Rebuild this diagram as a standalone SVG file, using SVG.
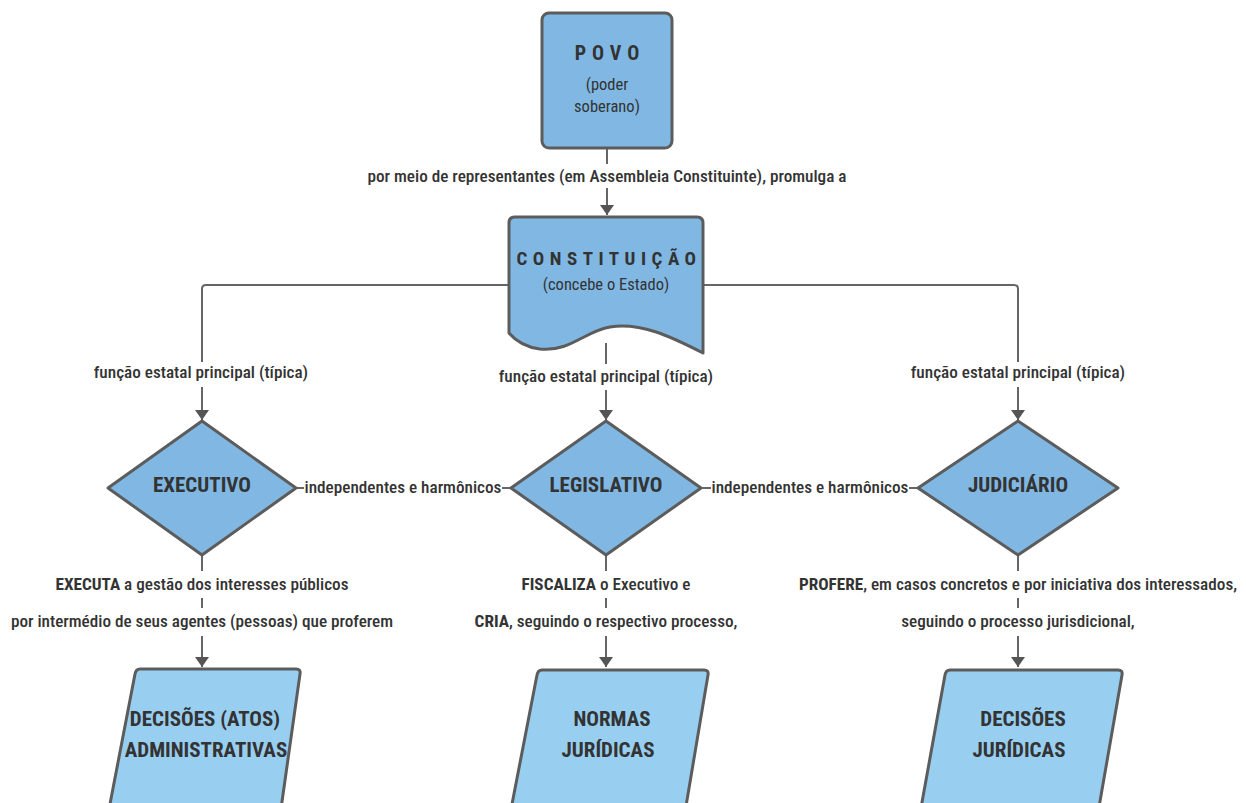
<svg xmlns="http://www.w3.org/2000/svg" width="1246" height="803" viewBox="0 0 1246 803">
<defs>
<style>
.shape{fill:#80b8e3;stroke:#5c5c5c;stroke-width:3;stroke-linejoin:round}
.out{fill:#98cff1;stroke:#5c5c5c;stroke-width:3;stroke-linejoin:round}
.conn{fill:none;stroke:#666;stroke-width:2}
text{font-family:"Roboto Condensed","Liberation Sans Narrow","Liberation Sans",sans-serif;fill:#333;text-anchor:middle}
.lbl{font-size:17.2px;font-weight:500}
.b{font-weight:bold}
.title{font-size:20px;font-weight:bold;letter-spacing:6px}
.sub{font-size:16.5px;font-weight:normal}
.node{font-size:21px;font-weight:bold}
</style>
<marker id="arr" viewBox="0 0 10 14" refX="10" refY="7" markerWidth="10" markerHeight="14" markerUnits="userSpaceOnUse" orient="auto">
<path d="M0,0 L10,7 L0,14 Z" fill="#555"/>
</marker>
</defs>
<rect width="1246" height="803" fill="#fff"/>

<g id="connectors">
<path class="conn" d="M607,149 V164"/>
<path class="conn" d="M607,188 V215" marker-end="url(#arr)"/>
<path class="conn" d="M509,285 H206 Q202,285 202,289 V362"/>
<path class="conn" d="M202,387 V420" marker-end="url(#arr)"/>
<path class="conn" d="M606,343 V364"/>
<path class="conn" d="M606,390 V420" marker-end="url(#arr)"/>
<path class="conn" d="M703,285 H1014 Q1018,285 1018,289 V362"/>
<path class="conn" d="M1018,387 V420" marker-end="url(#arr)"/>
<path class="conn" d="M296,488 H304 M502,488 H511"/>
<path class="conn" d="M701,488 H711 M909,488 H918"/>
<path class="conn" d="M202,555 V571 M202,598 V608"/>
<path class="conn" d="M202,636 V667" marker-end="url(#arr)"/>
<path class="conn" d="M606,555 V571 M606,598 V608"/>
<path class="conn" d="M606,636 V667" marker-end="url(#arr)"/>
<path class="conn" d="M1018,555 V571 M1018,598 V608"/>
<path class="conn" d="M1018,636 V667" marker-end="url(#arr)"/>
<text class="lbl" x="607" y="182">por meio de representantes (em Assembleia Constituinte), promulga a</text>
<text class="lbl" x="201" y="378">função estatal principal (típica)</text>
<text class="lbl" x="606" y="382">função estatal principal (típica)</text>
<text class="lbl" x="1018" y="378">função estatal principal (típica)</text>
<text class="lbl" x="403" y="493">independentes e harmônicos</text>
<text class="lbl" x="810" y="493">independentes e harmônicos</text>
<text class="lbl" x="202" y="590"><tspan class="b">EXECUTA</tspan> a gestão dos interesses públicos</text>
<text class="lbl" x="202" y="627">por intermédio de seus agentes (pessoas) que proferem</text>
<text class="lbl" x="606" y="590"><tspan class="b">FISCALIZA</tspan> o Executivo e</text>
<text class="lbl" x="606" y="627"><tspan class="b">CRIA</tspan>, seguindo o respectivo processo,</text>
<text class="lbl" x="1018" y="590"><tspan class="b">PROFERE</tspan>, em casos concretos e por iniciativa dos interessados,</text>
<text class="lbl" x="1018" y="627">seguindo o processo jurisdicional,</text>
</g>

<g id="povo">
<rect class="shape" x="542" y="13" width="130" height="135" rx="7"/>
<text class="title" x="610" y="60">POVO</text>
<text class="sub" x="607" y="90">(poder</text>
<text class="sub" x="607" y="112">soberano)</text>
</g>

<g id="constituicao">
<path class="shape" d="M515,217 H697 Q703,217 703,223 V353 C670,336 640,322 610,327 C585,331 570,352 540,349 C525,347 515,340 509,333 V223 Q509,217 515,217 Z"/>
<text class="title" x="609" y="265" style="font-size:19px;letter-spacing:5.5px">CONSTITUIÇÃO</text>
<text class="sub" x="606" y="290">(concebe o Estado)</text>
</g>

<g id="executivo">
<path class="shape" d="M202,421 L296,488 L202,555 L108,488 Z"/>
<text class="node" x="202" y="492">EXECUTIVO</text>
</g>

<g id="legislativo">
<path class="shape" d="M606,421 L701,488 L606,555 L511,488 Z"/>
<text class="node" x="606" y="492">LEGISLATIVO</text>
</g>

<g id="judiciario">
<path class="shape" d="M1018,421 L1118,488 L1018,555 L918,488 Z"/>
<text class="node" x="1018" y="492">JUDICIÁRIO</text>
</g>

<g id="decisoes-adm">
<path class="out" d="M140,669 H296 Q301,669 300,674 L278,830 H105 L135,674 Q136,669 140,669 Z"/>
<text class="node" x="205" y="726">DECISÕES (ATOS)</text>
<text class="node" x="206" y="757">ADMINISTRATIVAS</text>
</g>

<g id="normas">
<path class="out" d="M542,670 H704 Q709,670 708,675 L682,830 H507 L537,675 Q538,670 542,670 Z"/>
<text class="node" x="612" y="726">NORMAS</text>
<text class="node" x="608" y="757">JURÍDICAS</text>
</g>

<g id="decisoes-jur">
<path class="out" d="M950,670 H1118 Q1123,670 1122,675 L1095,830 H917 L945,675 Q946,670 950,670 Z"/>
<text class="node" x="1023" y="726">DECISÕES</text>
<text class="node" x="1019" y="757">JURÍDICAS</text>
</g>
</svg>
